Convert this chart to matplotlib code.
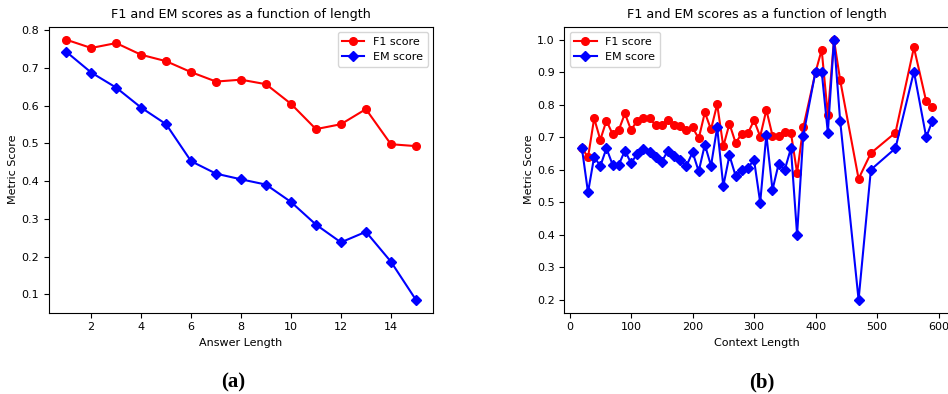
import matplotlib
matplotlib.use("Agg")
import matplotlib.pyplot as plt

plt.rcParams["font.family"] = ["DejaVu Sans"]

# (a) answer length
answer_len = list(range(1, 16))
f1_answer = [0.775, 0.753, 0.766, 0.735, 0.718, 0.689, 0.664, 0.669, 0.657, 0.605,
             0.538, 0.551, 0.591, 0.498, 0.493]
em_answer = [0.743, 0.688, 0.648, 0.595, 0.551, 0.453, 0.420, 0.405, 0.391, 0.345,
             0.285, 0.238, 0.266, 0.187, 0.086]

# (b) context length
context_len = [20, 30, 40, 50, 60, 70, 80, 90, 100, 110, 120, 130, 140, 150, 160, 170,
               180, 190, 200, 210, 220, 230, 240, 250, 260, 270, 280, 290, 300, 310,
               320, 330, 340, 350, 360, 370, 380, 400, 410, 420, 430, 440, 470, 490,
               530, 560, 580, 590]
f1_context = [0.667, 0.638, 0.758, 0.692, 0.751, 0.709, 0.722, 0.773, 0.722, 0.751,
              0.758, 0.758, 0.737, 0.737, 0.754, 0.737, 0.733, 0.722, 0.730, 0.696,
              0.776, 0.724, 0.801, 0.672, 0.741, 0.683, 0.710, 0.712, 0.752, 0.702,
              0.784, 0.705, 0.705, 0.716, 0.713, 0.590, 0.730, 0.900, 0.969, 0.767,
              1.000, 0.876, 0.572, 0.651, 0.714, 0.976, 0.810, 0.793]
em_context = [0.667, 0.530, 0.640, 0.611, 0.666, 0.615, 0.615, 0.659, 0.620, 0.649,
              0.664, 0.654, 0.640, 0.625, 0.659, 0.643, 0.630, 0.611, 0.654, 0.595,
              0.677, 0.612, 0.730, 0.550, 0.644, 0.581, 0.598, 0.606, 0.630, 0.499,
              0.708, 0.538, 0.618, 0.600, 0.666, 0.400, 0.705, 0.902, 0.902, 0.714,
              1.000, 0.751, 0.200, 0.600, 0.666, 0.902, 0.700, 0.750]

title = "F1 and EM scores as a function of length"

fig = plt.figure(figsize=(9.48, 3.94), dpi=100)
ax1 = fig.add_axes([0.0514, 0.2063, 0.4057, 0.726])
ax2 = fig.add_axes([0.5953, 0.2063, 0.4067, 0.726])

for ax, x, f1, em, xlabel, loc in [
    (ax1, answer_len, f1_answer, em_answer, "Answer Length", "upper right"),
    (ax2, context_len, f1_context, em_context, "Context Length", "upper left"),
]:
    ax.plot(x, f1, color="red", marker="o", markersize=5.5, linewidth=1.5, label="F1 score")
    ax.plot(x, em, color="blue", marker="D", markersize=5.5, linewidth=1.5, label="EM score")
    ax.set_title(title, fontsize=9.2)
    ax.set_xlabel(xlabel, fontsize=8)
    ax.set_ylabel("Metric Score", fontsize=8, labelpad=2)
    ax.tick_params(labelsize=8)
    ax.legend(loc=loc, fontsize=8)

fig.text(0.246, 0.03, "(a)", fontsize=15, fontweight="bold", family="Liberation Serif",
         ha="center", va="center")
fig.text(0.804, 0.03, "(b)", fontsize=15, fontweight="bold", family="Liberation Serif",
         ha="center", va="center")

fig.savefig("out.png", dpi=100)
